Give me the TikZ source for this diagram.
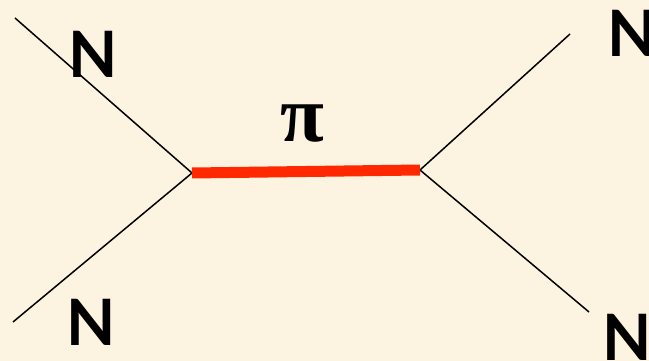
\documentclass[tikz,border=0pt]{standalone}
\usepackage{fontspec}
\newfontfamily\nfont{Lato}
\newfontfamily\pifont{Liberation Serif}
\definecolor{bgc}{RGB}{252,244,224}
\definecolor{pired}{RGB}{255,40,0}
\begin{document}
\begin{tikzpicture}[x=1pt,y=-1pt,
  nuc/.style={line width=1.5pt,black},
  meson/.style={line width=11pt,pired,line cap=butt},
  nlabel/.style={anchor=base,inner sep=0pt,font=\nfont\bfseries\fontsize{64}{64}\selectfont},
  pilabel/.style={anchor=base,inner sep=0pt,font=\pifont\bfseries\fontsize{80}{80}\selectfont}]
\fill[bgc] (0,0) rectangle (649,361);
\useasboundingbox (0,0) rectangle (649,361);
\coordinate (v1) at (192,173);
\coordinate (v2) at (420,170);
\coordinate (a) at (15,18);
\coordinate (b) at (13,322);
\coordinate (c) at (570,34);
\coordinate (d) at (589,312);
\draw[nuc] (a) -- (v1);
\draw[nuc] (b) -- (v1);
\draw[nuc] (v2) -- (c);
\draw[nuc] (v2) -- (d);
\draw[meson] (v1) -- (v2);
\node[nlabel] (n1) at (93,78) {N};
\node[nlabel] (n2) at (91,345) {N};
\node[nlabel] (n3) at (632,57) {N};
\node[nlabel] (n4) at (627,360) {N};
\node[pilabel] (pi) at (302,142) {π};
\end{tikzpicture}
\end{document}
